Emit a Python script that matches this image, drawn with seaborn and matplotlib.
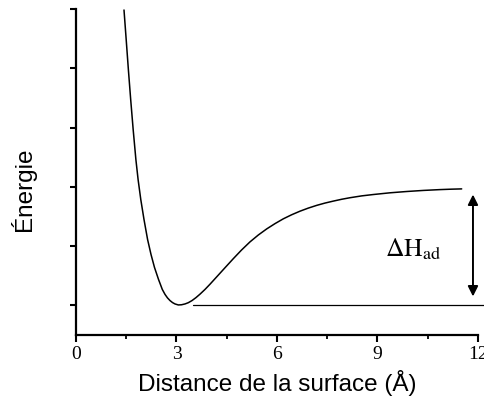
import numpy as np
import pandas as pd
import matplotlib
matplotlib.use("Agg")
import matplotlib.pyplot as plt
import seaborn as sns

# Adsorption potential energy curve (arbitrary energy units)
distance = [1.433, 1.499, 1.564, 1.633, 1.707, 1.788, 1.854, 1.934, 2.030,
            2.137, 2.239, 2.343, 2.463, 2.576, 2.657, 2.731, 2.806, 2.881,
            2.955, 3.054, 3.149, 3.254, 3.352, 3.463, 3.582, 3.701, 3.851,
            4.000, 4.200, 4.448, 4.696, 4.940, 5.194, 5.442, 5.693, 5.940,
            6.188, 6.439, 6.687, 6.934, 7.185, 7.433, 7.681, 7.931, 8.179,
            8.528, 8.875, 9.373, 9.872, 10.367, 10.866, 11.194, 11.513]
energy = [4.983, 4.478, 3.973, 3.468, 2.963, 2.458, 2.121, 1.785, 1.448,
          1.111, 0.859, 0.640, 0.438, 0.269, 0.185, 0.126, 0.081, 0.047,
          0.024, 0.007, 0.010, 0.024, 0.045, 0.081, 0.131, 0.189, 0.269,
          0.357, 0.481, 0.635, 0.788, 0.933, 1.071, 1.187, 1.290, 1.379,
          1.460, 1.529, 1.589, 1.641, 1.687, 1.726, 1.759, 1.790, 1.816,
          1.847, 1.870, 1.899, 1.921, 1.939, 1.953, 1.960, 1.965]

# Reference level at the well bottom and the adsorption enthalpy arrow
baseline_x = [3.48, 12.25]
baseline_y = [0.0, 0.0]
arrow_x = 11.85
arrow_y = [0.15, 1.87]

x_ticks = [0, 3, 6, 9, 12]
x_minor = [1.5, 4.5, 7.5, 10.5]
y_ticks = [0, 1, 2, 3, 4, 5]

sns.set_theme(style="ticks")
plt.rcParams["font.family"] = ["Liberation Sans", "DejaVu Sans"]
plt.rcParams["mathtext.fontset"] = "stix"

fig = plt.figure(figsize=(4.85, 3.96), dpi=100)
ax = fig.add_axes([76 / 485, 1 - 335 / 396, 402 / 485, 326 / 396])

df = pd.DataFrame({"distance": distance, "energy": energy})
sns.lineplot(data=df, x="distance", y="energy", ax=ax, color="black",
             linewidth=1.1, estimator=None, sort=False)

ax.plot(baseline_x, baseline_y, color="black", linewidth=0.9, clip_on=False)

ax.annotate("", xy=(arrow_x, arrow_y[1]), xytext=(arrow_x, arrow_y[0]),
            arrowprops=dict(arrowstyle="<|-|>,head_length=0.6,head_width=0.3",
                            color="black", lw=1.4, mutation_scale=10,
                            shrinkA=0, shrinkB=0))

ax.text(9.22, 0.825, r"$\mathrm{\Delta H_{ad}}$", fontsize=18.5,
        ha="left", va="baseline", color="black")

ax.set_xlim(0, 12)
ax.set_ylim(-0.5, 5.0)
ax.set_xticks(x_ticks)
ax.set_xticklabels([str(t) for t in x_ticks], fontfamily="Liberation Serif",
                   fontsize=14)
ax.set_xticks(x_minor, minor=True)
ax.set_yticks(y_ticks)
ax.set_yticklabels([])

ax.tick_params(axis="x", which="major", direction="out", length=5, width=1.5,
               pad=3, colors="black")
ax.tick_params(axis="x", which="minor", direction="out", length=3, width=1.3,
               colors="black")
ax.tick_params(axis="y", which="major", direction="out", length=4, width=1.5,
               colors="black")

for side in ("left", "bottom"):
    ax.spines[side].set_linewidth(1.6)
    ax.spines[side].set_color("black")
sns.despine(ax=ax)

ax.set_xlabel("Distance de la surface (Å)", fontsize=17.5, labelpad=5,
              color="black")
ax.set_ylabel("Énergie", fontsize=17.5, color="black")
ax.yaxis.set_label_coords(-0.10, 0.448)

fig.savefig("out.png", dpi=100)
